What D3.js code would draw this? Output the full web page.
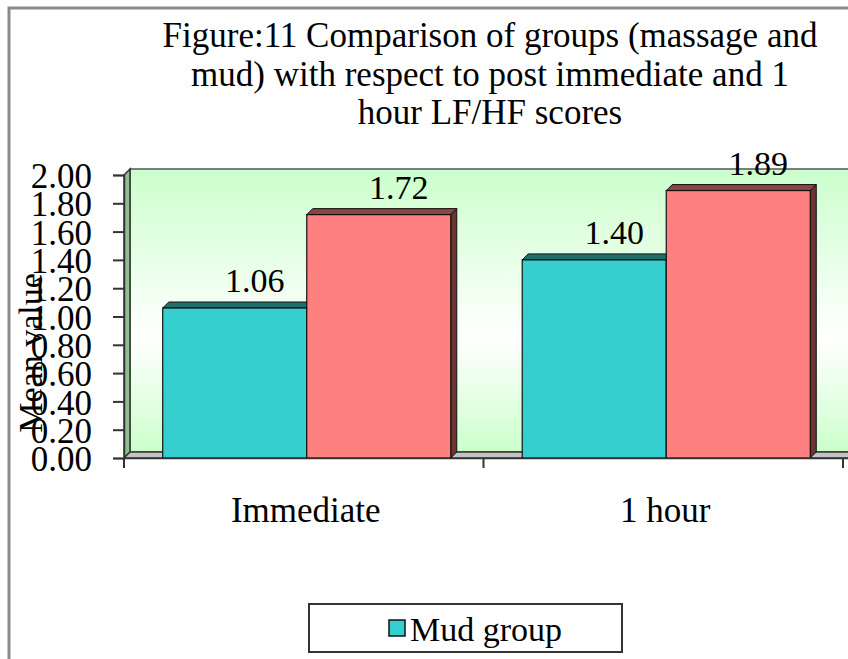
<!DOCTYPE html>
<html><head><meta charset="utf-8">
<script src="https://cdn.jsdelivr.net/npm/d3@7/dist/d3.min.js"></script>
<style>body{margin:0;background:#fff}svg{display:block}</style>
</head><body><svg id="c" width="848" height="659"></svg>
<script>
const titleLines = ["Figure:11 Comparison of groups (massage and", "mud) with respect to post immediate and 1", "hour LF/HF scores"];
const categories = ["Immediate", "1 hour"];
const seriesNames = ["Mud group", "Massage group"];
const mudValues = [1.06, 1.40];
const massageValues = [1.72, 1.89];
const yTicks = [0, 0.2, 0.4, 0.6, 0.8, 1.0, 1.2, 1.4, 1.6, 1.8, 2.0];
const yTitle = "Mean value";
const legendItems = ["Mud group"];

const FONT = "'Liberation Serif', 'Times New Roman', serif";
const colors = {"Mud group": "#36cfcf", "Massage group": "#ff8080"};
const topColors = {"Mud group": "#1f6f6c", "Massage group": "#8a4444"};
const sideColors = {"Mud group": "#1a5e5c", "Massage group": "#6e3434"};

const svg = d3.select("#c").style("font-family", FONT);
const D = 6; // 3D depth
const y = d3.scaleLinear().domain([0, 2]).range([458, 175]);
const x0 = d3.scaleBand().domain(categories).range([124, 843]).paddingInner(0).paddingOuter(0);
const x1 = d3.scaleBand().domain(seriesNames).range([3, x0.bandwidth() + 3]).paddingInner(0).paddingOuter(0.248);

function txt(sel) { return sel.style("font-family", FONT).attr("fill", "#000"); }

// outer chart border
svg.append("rect").attr("x", 9).attr("y", 8).attr("width", 900).attr("height", 700)
  .attr("fill", "none").attr("stroke", "#8a8a8a").attr("stroke-width", 3);

// title
txt(svg.append("g").selectAll("text").data(titleLines).join("text"))
  .attr("x", 490).attr("y", (d, i) => 47 + i * 38.5)
  .attr("text-anchor", "middle").attr("font-size", 35).text(d => d);

// wall gradient
const defs = svg.append("defs");
const g = defs.append("linearGradient").attr("id", "wallg").attr("x1", 0).attr("y1", 0).attr("x2", 0).attr("y2", 1);
g.append("stop").attr("offset", 0).attr("stop-color", "#ccffcc");
g.append("stop").attr("offset", 0.6).attr("stop-color", "#ffffff");
g.append("stop").attr("offset", 1).attr("stop-color", "#ccffcc");

const xL = 124, xR = 860, yT = y(2), yB = y(0);
svg.append("rect").attr("x", xL + D).attr("y", yT - D).attr("width", xR - xL).attr("height", yB - yT)
  .attr("fill", "url(#wallg)").attr("stroke", "#555").attr("stroke-width", 1.5);
svg.append("polygon").attr("points", [[xL, yT], [xL + D, yT - D], [xL + D, yB - D], [xL, yB]].join(" "))
  .attr("fill", "#8fbf8f").attr("stroke", "#333").attr("stroke-width", 1.5);
svg.append("polygon").attr("points", [[xL, yB], [xL + D, yB - D], [xR + D, yB - D], [xR, yB]].join(" "))
  .attr("fill", "#c4c4c4").attr("stroke", "#333").attr("stroke-width", 1.5);

// bars
const rows = categories.map((c, i) => ({cat: c, vals: [
  {s: seriesNames[0], v: mudValues[i]}, {s: seriesNames[1], v: massageValues[i]}]}));
const grp = svg.append("g").selectAll("g").data(rows).join("g")
  .attr("transform", d => `translate(${x0(d.cat)},0)`);
const bar = grp.selectAll("g").data(d => d.vals).join("g");
const w = x1.bandwidth();
bar.append("polygon").attr("points", d => {
    const x = x1(d.s), t = y(d.v);
    return [[x + w, t], [x + w + D, t - D], [x + w + D, yB - D], [x + w, yB]].join(" ");
  }).attr("fill", d => sideColors[d.s]).attr("stroke", "#111").attr("stroke-width", 1);
bar.append("polygon").attr("points", d => {
    const x = x1(d.s), t = y(d.v);
    return [[x, t], [x + D, t - D], [x + w + D, t - D], [x + w, t]].join(" ");
  }).attr("fill", d => topColors[d.s]).attr("stroke", "#111").attr("stroke-width", 1);
bar.append("rect").attr("x", d => x1(d.s)).attr("y", d => y(d.v))
  .attr("width", w).attr("height", d => yB - y(d.v))
  .attr("fill", d => colors[d.s]).attr("stroke", "#111").attr("stroke-width", 1.2);
txt(bar.append("text")).attr("x", d => x1(d.s) + w / 2 + 20).attr("y", d => y(d.v) - 16)
  .attr("text-anchor", "middle").attr("font-size", 34).text(d => d.v.toFixed(2));

// y axis
const yAxis = d3.axisLeft(y).tickValues(yTicks).tickFormat(d3.format(".2f")).tickSize(11).tickPadding(21);
const ya = svg.append("g").attr("transform", `translate(${xL},0)`).call(yAxis).attr("font-family", null);
ya.select(".domain").attr("stroke", "#333").attr("stroke-width", 1.5);
ya.selectAll(".tick line").attr("stroke", "#333").attr("stroke-width", 2);
txt(ya.selectAll(".tick text")).attr("font-size", 35).attr("dy", "0.36em");

// x axis
const xAxis = d3.axisBottom(x0).tickSize(10).tickSizeOuter(0).tickFormat("");
const xa = svg.append("g").attr("transform", `translate(0,${yB})`).call(xAxis);
xa.select(".domain").attr("stroke", "#333").attr("stroke-width", 1.5).attr("d", `M${xL},0.5H848`);
xa.selectAll(".tick").remove();
const bounds = [x0(categories[0]), ...categories.map(c => x0(c) + x0.bandwidth())];
xa.selectAll("line.b").data(bounds).join("line").attr("class", "b")
  .attr("x1", d => d).attr("x2", d => d).attr("y1", 0).attr("y2", 10).attr("stroke", "#333").attr("stroke-width", 2);
txt(svg.append("g").selectAll("text").data(categories).join("text"))
  .attr("x", d => x0(d) + x0.bandwidth() / 2 + 2).attr("y", 522)
  .attr("text-anchor", "middle").attr("font-size", 35).text(d => d);

// y title
txt(svg.append("text")).attr("transform", "translate(42,353) rotate(-90)")
  .attr("text-anchor", "middle").attr("font-size", 34).text(yTitle);

// legend
const lg = svg.append("g");
lg.append("rect").attr("x", 309).attr("y", 604).attr("width", 313).attr("height", 48)
  .attr("fill", "#fff").attr("stroke", "#333").attr("stroke-width", 2);
legendItems.forEach((name, i) => {
  lg.append("rect").attr("x", 389).attr("y", 620).attr("width", 16).attr("height", 16)
    .attr("fill", colors[name]).attr("stroke", "#111").attr("stroke-width", 1.5);
  txt(lg.append("text")).attr("x", 410).attr("y", 641).attr("font-size", 34).text(name);
});
</script></body></html>
